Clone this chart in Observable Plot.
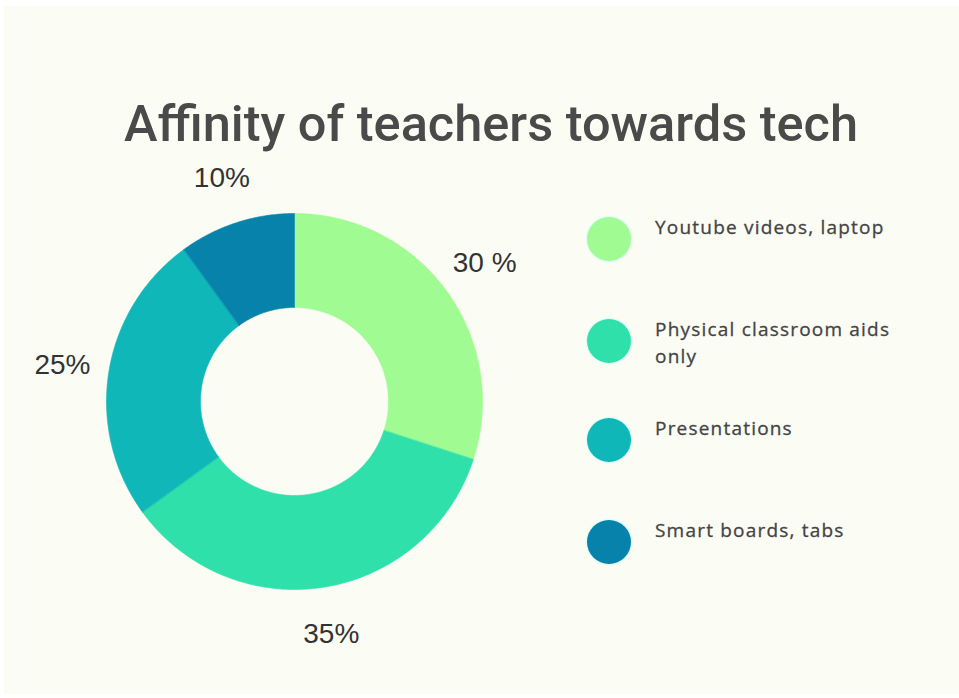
<!DOCTYPE html>
<html><head><meta charset="utf-8">
<script src="https://cdn.jsdelivr.net/npm/d3@7"></script>
<script src="https://cdn.jsdelivr.net/npm/@observablehq/plot@0.6"></script>
<style>
body{margin:0;background:#fff;}
#page{position:relative;width:959px;height:698px;overflow:hidden;background:#fff;}
#bg{position:absolute;left:4px;top:6px;width:955px;height:688px;background:#fbfcf4;}
#title{position:absolute;left:0;width:982px;top:99px;text-align:center;font:500 50.5px/50.5px Roboto,"Liberation Sans",Arial,sans-serif;color:#4a4a4a;white-space:nowrap;}
#chart{position:absolute;left:14px;top:150px;}
.row{position:absolute;left:587px;width:360px;height:44px;}
.sw{position:absolute;left:0;top:0;width:44px;height:44px;border-radius:50%;box-shadow:0 0 1px 1px rgba(200,255,250,0.7);}
.lt{position:absolute;left:68px;top:-3px;width:248px;font:19px/27px "Open Sans",sans-serif;letter-spacing:1.2px;color:#444;-webkit-text-stroke:0.3px #444;}
</style></head>
<body>
<div id="page"><div id="bg"></div>
<div id="title"></div>
<div id="chart"></div>
<div id="legend"></div>
</div>
<script>
const title = "Affinity of teachers towards tech";
const categories = ["Youtube videos, laptop", "Physical classroom aids only", "Presentations", "Smart boards, tabs"];
const values = [30, 35, 25, 10];
const valueLabels = ["30 %", "35%", "25%", "10%"];
const colors = ["#9ffb92", "#2fe0aa", "#0fb7b9", "#0783ab"];

document.getElementById("title").textContent = title;

const rows = categories.map((c, i) => ({name: c, value: values[i], label: valueLabels[i]}));
const arcs = d3.pie().sort(null).value(d => d.value)(rows);
const R0 = 0.5, R1 = 1, RL = 1.25;
const pts = [];
for (const a of arcs) {
  const n = Math.max(2, Math.ceil((a.endAngle - a.startAngle) / 0.01));
  for (let k = 0; k <= n; k++) {
    const t = a.startAngle + (a.endAngle - a.startAngle) * k / n;
    pts.push({name: a.data.name, x: R1 * Math.sin(t), y: R1 * Math.cos(t)});
  }
  for (let k = n; k >= 0; k--) {
    const t = a.startAngle + (a.endAngle - a.startAngle) * k / n;
    pts.push({name: a.data.name, x: R0 * Math.sin(t), y: R0 * Math.cos(t)});
  }
}
const labs = arcs.map(a => {
  const t = (a.startAngle + a.endAngle) / 2;
  return {label: a.data.label, x: RL * Math.sin(t), y: RL * Math.cos(t)};
});

const W = 560, H = 502, Rpx = 188;
const chart = Plot.plot({
  width: W, height: H, margin: 0,
  x: {domain: [-W / 2 / Rpx, W / 2 / Rpx], axis: null},
  y: {domain: [-H / 2 / Rpx, H / 2 / Rpx], axis: null},
  color: {domain: categories, range: colors},
  style: {background: "transparent", overflow: "visible"},
  marks: [
    Plot.line(pts, {x: "x", y: "y", z: "name", fill: "name", stroke: "name", strokeWidth: 0.6, curve: "linear-closed"}),
    Plot.text(labs, {x: "x", y: "y", text: "label", fontSize: 28, fill: "#333", fontFamily: "Liberation Sans, Arial, sans-serif"})
  ]
});
document.getElementById("chart").appendChild(chart);

const centers = [239, 341, 440, 542];
const leg = document.getElementById("legend");
categories.forEach((c, i) => {
  const row = document.createElement("div");
  row.className = "row";
  row.style.top = (centers[i] - 22) + "px";
  const sw = document.createElement("div");
  sw.className = "sw";
  sw.style.background = colors[i];
  const lt = document.createElement("div");
  lt.className = "lt";
  lt.textContent = c;
  row.appendChild(sw); row.appendChild(lt);
  leg.appendChild(row);
});
</script>
</body></html>
